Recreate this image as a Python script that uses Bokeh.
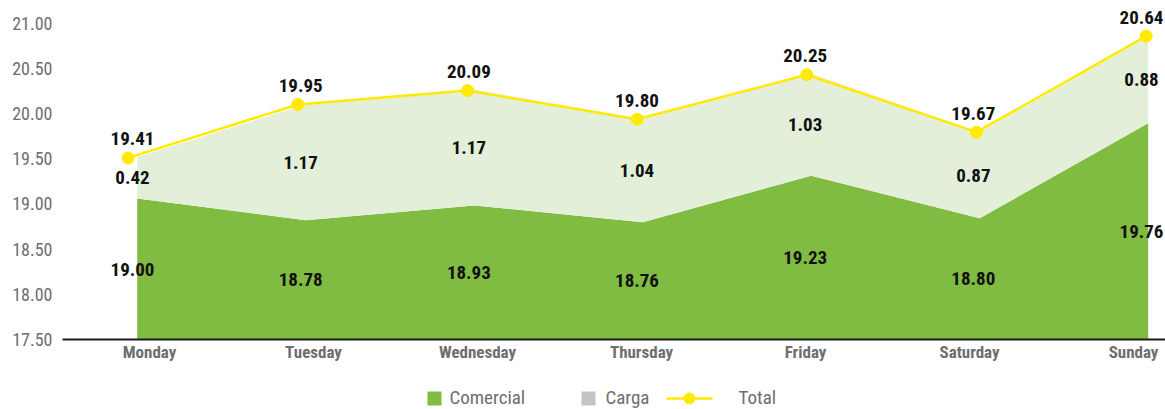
from bokeh.plotting import figure
from bokeh.layouts import column
from bokeh.core.properties import value
from bokeh.models import (Range1d, LinearAxis, FixedTicker, NumeralTickFormatter,
                          ColumnDataSource, LabelSet)
from bokeh.embed import file_html
from bokeh.resources import INLINE

days = ["Monday", "Tuesday", "Wednesday", "Thursday", "Friday", "Saturday", "Sunday"]
comercial = [19.00, 18.78, 18.93, 18.76, 19.23, 18.80, 19.76]
carga = [0.42, 1.17, 1.17, 1.04, 1.03, 0.87, 0.88]
total = [19.41, 19.95, 20.09, 19.80, 20.25, 19.67, 20.64]
y_ticks = [17.5, 18.0, 18.5, 19.0, 19.5, 20.0, 20.5, 21.0]
legend_names = ["Comercial", "Carga", "Total"]

FONT = ("'Noto Sans ExtraCondensed', 'Noto Sans Condensed', 'Roboto Condensed', "
        "'Liberation Sans Narrow', 'DejaVu Sans Condensed', sans-serif")
GREEN = "#80bc42"
LIGHT = "#e3efd9"
YELLOW = "#ffea00"
GREY_TXT = "#6d6e71"
GREY_SW = "#c4c4c4"

Y_START, Y_END = 17.576, 21.0
idx = list(range(len(days)))
stack_top = [c + g for c, g in zip(comercial, carga)]

src = ColumnDataSource(dict(
    x=idx, com=comercial, top=stack_top, tot=total,
    base=[Y_START] * len(days),
    com_mid=[(Y_START + c) / 2 for c in comercial],
    car_mid=[c + g / 2 for c, g in zip(comercial, carga)],
    com_lbl=[f"{v:.2f}" for v in comercial],
    car_lbl=[f"{v:.2f}" for v in carga],
    tot_lbl=[f"{v:.2f}" for v in total],
))

p = figure(width=1165, height=375, output_backend="svg", toolbar_location=None,
           x_range=Range1d(-0.4433, 6.1027), y_range=Range1d(Y_START, Y_END),
           x_axis_location=None, y_axis_location=None,
           min_border_left=62, min_border_right=0, min_border_top=0, min_border_bottom=36)
p.extra_x_ranges = {"line": Range1d(-0.3872, 6.1138), "lbl": Range1d(-0.4163, 6.1427),
                    "cat": Range1d(-0.5305, 6.195)}
p.extra_y_ranges = {"tick": Range1d(17.5, 21.25)}
p.outline_line_color = None
p.grid.visible = False

# stacked areas
p.varea(x="x", y1="base", y2="com", source=src, fill_color=GREEN)
p.varea(x="x", y1="com", y2="top", source=src, fill_color=LIGHT)

# total line
p.line(x="x", y="tot", source=src, x_range_name="line", line_color=YELLOW, line_width=2.5)
p.scatter(x="x", y="tot", source=src, x_range_name="line", size=12,
          fill_color=YELLOW, line_color=YELLOW)


def labels(ycol, tcol, yoff):
    ls = LabelSet(x="x", y=ycol, text=tcol, source=src, x_range_name="lbl", y_offset=yoff,
                  text_align="center", text_baseline="middle", text_font=value(FONT),
                  text_font_size="19px", text_font_style="bold", text_color="#111111")
    p.add_layout(ls)


labels("tot", "tot_lbl", 19)
labels("car_mid", "car_lbl", 0)
labels("com_mid", "com_lbl", 0)

# axes
xa = LinearAxis(x_range_name="cat", ticker=FixedTicker(ticks=idx),
                major_label_overrides={i: d for i, d in enumerate(days)})
xa.axis_line_color = "#1a1a1a"
xa.axis_line_width = 2
xa.major_tick_line_color = None
xa.minor_tick_line_color = None
xa.major_tick_out = 0
xa.major_label_standoff = 2
xa.major_label_text_font = FONT
xa.major_label_text_font_size = "17px"
xa.major_label_text_font_style = "bold"
xa.major_label_text_color = GREY_TXT
p.add_layout(xa, "below")

ya = LinearAxis(y_range_name="tick", ticker=FixedTicker(ticks=y_ticks),
                formatter=NumeralTickFormatter(format="0.00"))
ya.axis_line_color = None
ya.major_tick_line_color = None
ya.minor_tick_line_color = None
ya.major_tick_out = 0
ya.major_label_standoff = 10
ya.major_label_text_font = FONT
ya.major_label_text_font_size = "18px"
ya.major_label_text_color = GREY_TXT
p.add_layout(ya, "left")

# legend strip (pixel coordinates of the page)
lg = figure(width=1165, height=34, output_backend="svg", toolbar_location=None,
            x_range=Range1d(62, 1165), y_range=Range1d(409, 375),
            x_axis_location=None, y_axis_location=None,
            min_border_left=62, min_border_right=0, min_border_top=0, min_border_bottom=0)
lg.outline_line_color = None
lg.grid.visible = False
LY = 396.5
lg.rect(x=[434, 588], y=[LY + 1.5, LY + 1.5], width=14, height=14,
        fill_color=[GREEN, GREY_SW], line_color=None)
lg.line(x=[666, 712], y=[LY + 1.5, LY + 1.5], line_color=YELLOW, line_width=2.5)
lg.scatter(x=[689], y=[LY + 1.5], size=11, fill_color=YELLOW, line_color=YELLOW)
lg.text(x=[449, 605, 738], y=[LY] * 3, text=legend_names, text_font=value(FONT),
        text_font_size="19px", text_color=GREY_TXT, text_baseline="middle", text_align="left")

open("out.html", "w").write(file_html(column(p, lg, spacing=0), INLINE))
